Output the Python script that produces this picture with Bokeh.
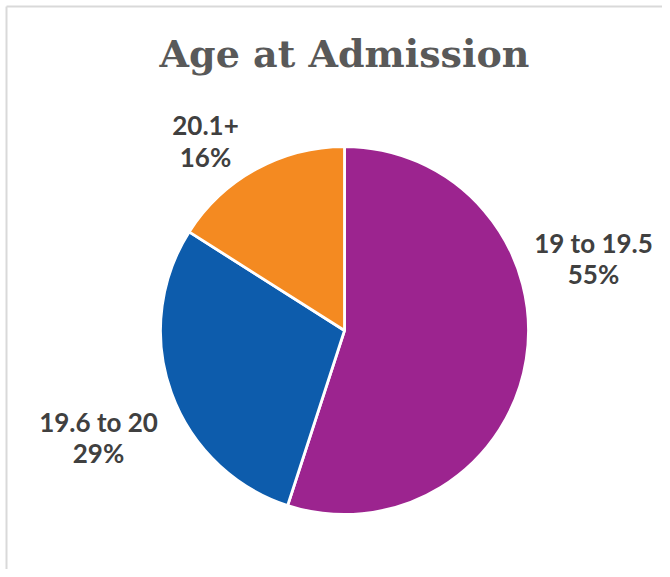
import math
from bokeh.plotting import figure
from bokeh.models import ColumnDataSource
from bokeh.core.properties import value
from bokeh.embed import file_html
from bokeh.resources import INLINE

# ---- data ----
title_text = "Age at Admission"
categories = ["19 to 19.5", "19.6 to 20", "20.1+"]
percents = [55, 29, 16]
colors = ["#9C248F", "#0D5CAC", "#F48A21"]

# ---- layout (pixel-like data space, y measured from the top) ----
W, H = 662, 569
cx, cy = 344, 330           # pie centre (screen px from top-left)
radius = 184
label_pos = [(593, 242), (98, 421), (205, 125)]   # centre of first label line
line_gap = 31
border = 6

total = sum(percents)
starts, ends = [], []
acc = 0.0
for v in percents:
    starts.append(math.pi / 2 - 2 * math.pi * acc / total)
    acc += v
    ends.append(math.pi / 2 - 2 * math.pi * acc / total)

src = ColumnDataSource(dict(cat=categories, pct=percents, color=colors,
                            start=starts, end=ends,
                            x=[cx] * len(categories), y=[H - cy] * len(categories)))

p = figure(width=W, height=H, x_range=(0, W), y_range=(0, H),
           output_backend="svg", toolbar_location=None,
           min_border=0, min_border_left=0, min_border_right=0,
           min_border_top=0, min_border_bottom=0)
p.axis.visible = False
p.grid.visible = False
p.outline_line_color = None
p.background_fill_color = "white"
p.border_fill_color = "white"

# chart frame (top and left edges visible in the window)
p.segment(x0=[border, border], y0=[H - border, H - border],
          x1=[W + 10, border], y1=[H - border, -10],
          line_color="#d9d9d9", line_width=2)

p.wedge(x="x", y="y", radius=radius, radius_units="screen",
        start_angle="start", end_angle="end", direction="clock",
        fill_color="color", line_color="white", line_width=2.8, source=src)

lab_src = ColumnDataSource(dict(
    x=[q[0] for q in label_pos],
    y1=[H - q[1] for q in label_pos],
    y2=[H - q[1] - line_gap for q in label_pos],
    name=categories,
    pct=[f"{v}%" for v in percents]))

for col, ycol in (("name", "y1"), ("pct", "y2")):
    p.text(x="x", y=ycol, text=col, source=lab_src,
           text_font=value("Lato"), text_font_style="bold",
           text_font_size="26px", text_color="#404040",
           text_align="center", text_baseline="middle")

p.text(x=[344], y=[H - 53], text=[title_text],
       text_font=value("DejaVu Serif"), text_font_style="bold",
       text_font_size="38px", text_color="#595959",
       text_align="center", text_baseline="middle")

open("out.html", "w").write(file_html(p, INLINE))
